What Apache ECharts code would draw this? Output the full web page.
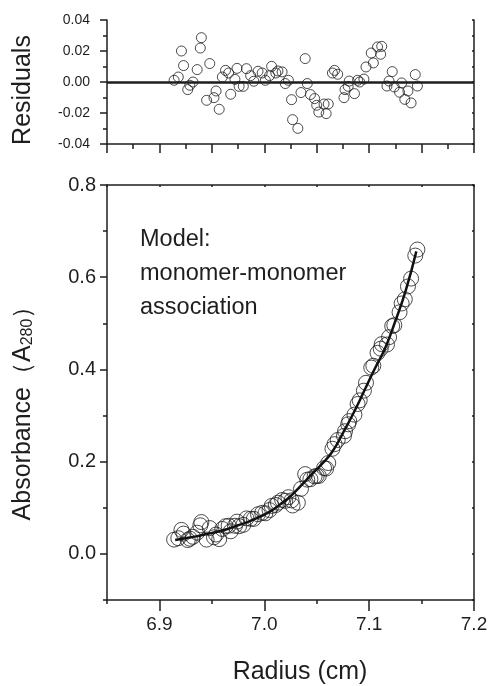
<!DOCTYPE html>
<html>
<head>
<meta charset="utf-8">
<script src="https://cdn.jsdelivr.net/npm/echarts@6/dist/echarts.min.js"></script>
<style>
html,body{margin:0;padding:0;background:#fff;}
#chart{width:495px;height:686px;}
</style>
</head>
<body>
<div id="chart"></div>
<script>
// ---- data ----
const radius = [6.914,6.918,6.921,6.923,6.927,6.929,6.932,6.936,6.939,6.940,
  6.945,6.948,6.952,6.954,6.957,6.960,6.963,6.966,6.968,6.972,
  6.974,6.976,6.980,6.983,6.987,6.990,6.994,6.998,7.001,7.005,
  7.007,7.011,7.013,7.017,7.020,7.023,7.026,7.027,7.032,7.035,
  7.039,7.041,7.044,7.048,7.050,7.052,7.057,7.059,7.061,7.065,
  7.067,7.070,7.076,7.077,7.080,7.081,7.086,7.089,7.091,7.095,
  7.097,7.102,7.104,7.108,7.111,7.112,7.117,7.119,7.122,7.124,
  7.129,7.131,7.134,7.137,7.140,7.144,7.146];
const residuals = [0.0011,0.0032,0.0200,0.0106,-0.0049,-0.0021,0.0000,0.0080,0.0219,0.0286,
  -0.0118,0.0119,-0.0101,-0.0058,-0.0176,0.0032,0.0075,0.0058,-0.0079,0.0017,
  0.0088,-0.0028,-0.0028,0.0086,0.0041,0.0005,0.0069,0.0058,0.0011,0.0041,
  0.0101,0.0058,0.0071,0.0065,-0.0010,0.0011,-0.0114,-0.0243,-0.0299,-0.0068,
  0.0151,-0.0010,-0.0081,-0.0107,-0.0150,-0.0194,-0.0142,-0.0204,-0.0142,0.0058,
  0.0075,0.0050,-0.0101,-0.0049,-0.0028,0.0006,-0.0075,0.0011,0.0000,0.0019,
  0.0097,0.0187,0.0123,0.0226,0.0179,0.0230,-0.0026,0.0006,0.0067,-0.0032,
  -0.0066,-0.0006,-0.0112,-0.0058,-0.0135,0.0048,-0.0026];
const absorbance = [0.031,0.034,0.052,0.044,0.030,0.033,0.037,0.046,0.062,0.069,
  0.031,0.056,0.036,0.042,0.032,0.054,0.060,0.061,0.049,0.061,
  0.070,0.060,0.063,0.077,0.076,0.076,0.086,0.089,0.088,0.095,
  0.104,0.106,0.111,0.117,0.115,0.123,0.116,0.105,0.111,0.141,
  0.173,0.161,0.162,0.168,0.169,0.169,0.186,0.185,0.197,0.228,
  0.238,0.247,0.256,0.266,0.281,0.288,0.302,0.325,0.333,0.354,
  0.371,0.404,0.408,0.436,0.445,0.455,0.454,0.470,0.494,0.496,
  0.524,0.543,0.552,0.580,0.597,0.647,0.660];
const fitRadius = [6.915,6.925,6.935,6.945,6.955,6.965,6.975,6.985,6.995,7.005,
  7.015,7.025,7.035,7.045,7.055,7.065,7.075,7.085,7.095,7.105,7.115,7.125,7.135,7.145];
const fitAbs = [0.030,0.034,0.038,0.043,0.048,0.054,0.062,0.070,0.080,0.091,
  0.107,0.125,0.148,0.172,0.195,0.222,0.262,0.305,0.352,0.400,0.445,0.505,0.572,0.656];
const xMajorTicks = [6.9,7.0,7.1,7.2];
const yMajorTicks = [0.0,0.2,0.4,0.6,0.8];
const modelLines = ['Model:','monomer-monomer','association'];

// ---- chart ----
const INK = '#1e1e1e';
const FONT = 'Liberation Sans, Arial, sans-serif';
const chart = echarts.init(document.getElementById('chart'), null, {renderer:'canvas'});
const lineStyle = {color: INK, width: 1.5};
const hidden = {show:false};

const resData = radius.map((r,i)=>[r, residuals[i]]);
const absData = radius.map((r,i)=>[r, absorbance[i]]);
const fitData = fitRadius.map((r,i)=>[r, fitAbs[i]]);

chart.setOption({
  backgroundColor:'#fff',
  animation:false,
  grid:[
    {left:107, right:21, top:20, height:124},
    {left:107, right:21, top:185, height:415}
  ],
  xAxis:[
    {gridIndex:0, type:'value', position:'bottom', min:6.85, max:7.2, interval:0.05,
     axisLine:{show:true, onZero:false, lineStyle},
     axisTick:{show:true, length:9, lineStyle},
     minorTick:{show:true, splitNumber:2, length:5, lineStyle},
     axisLabel:hidden, splitLine:hidden, minorSplitLine:hidden},
    {gridIndex:1, type:'value', position:'bottom', min:6.85, max:7.2, interval:0.05,
     axisLine:{show:true, onZero:false, lineStyle},
     axisTick:{show:true, length:4, lineStyle},
     axisLabel:hidden, splitLine:hidden},
    {gridIndex:1, type:'value', position:'bottom', min:6.85, max:7.2,
     axisLine:{show:false, onZero:false},
     axisTick:{show:true, length:11, lineStyle, customValues:xMajorTicks},
     axisLabel:{show:true, customValues:xMajorTicks, margin:15, color:INK, fontSize:19, fontFamily:FONT,
       formatter:v=>v.toFixed(1)},
     splitLine:hidden},
    {gridIndex:1, type:'value', position:'top', min:6.85, max:7.2, interval:0.05,
     axisLine:{show:true, onZero:false, lineStyle},
     axisTick:{show:true, inside:true, length:2, lineStyle},
     axisLabel:hidden, splitLine:hidden}
  ],
  yAxis:[
    {gridIndex:0, type:'value', position:'left', min:-0.04, max:0.04, interval:0.02,
     axisLine:{show:true, onZero:false, lineStyle},
     axisTick:{show:true, length:7, lineStyle},
     minorTick:{show:true, splitNumber:2, length:4, lineStyle},
     axisLabel:{show:true, margin:17, color:INK, fontSize:14, fontFamily:FONT, formatter:v=>v.toFixed(2)},
     splitLine:hidden, minorSplitLine:hidden},
    {gridIndex:0, type:'value', position:'right', min:-0.04, max:0.04, interval:0.01,
     axisLine:{show:true, onZero:false, lineStyle},
     axisTick:{show:true, inside:true, length:2, lineStyle},
     axisLabel:hidden, splitLine:hidden},
    {gridIndex:1, type:'value', position:'left', min:-0.1, max:0.8, interval:0.1,
     axisLine:{show:true, onZero:false, lineStyle},
     axisTick:{show:true, length:4, lineStyle},
     axisLabel:hidden, splitLine:hidden},
    {gridIndex:1, type:'value', position:'left', min:-0.1, max:0.8,
     axisLine:{show:false, onZero:false},
     axisTick:{show:true, length:7, lineStyle, customValues:yMajorTicks},
     axisLabel:{show:true, customValues:yMajorTicks, margin:11, color:INK, fontSize:20, fontFamily:FONT,
       formatter:v=>v.toFixed(1)},
     splitLine:hidden},
    {gridIndex:1, type:'value', position:'right', min:-0.1, max:0.8, interval:0.1,
     axisLine:{show:true, onZero:false, lineStyle},
     axisTick:{show:true, inside:true, length:2, lineStyle},
     axisLabel:hidden, splitLine:hidden}
  ],
  series:[
    {type:'scatter', xAxisIndex:0, yAxisIndex:0, data:resData, symbol:'circle', symbolSize:10,
     itemStyle:{color:'rgba(0,0,0,0)', borderColor:INK, borderWidth:1},
     markLine:{silent:true, symbol:['none','none'], label:{show:false},
       lineStyle:{color:INK, width:2.5, type:'solid'}, data:[{yAxis:0}]}},
    {type:'scatter', xAxisIndex:1, yAxisIndex:2, data:absData, symbol:'circle', symbolSize:15,
     itemStyle:{color:'rgba(0,0,0,0)', borderColor:INK, borderWidth:1}},
    {type:'line', xAxisIndex:1, yAxisIndex:2, data:fitData, smooth:true, showSymbol:false,
     lineStyle:{color:'#111', width:2.5}}
  ],
  graphic:[
    {type:'text', x:23, y:90, rotation:Math.PI/2,
     style:{text:'Residuals', x:0, y:0, align:'center', verticalAlign:'middle',
       font:'25px '+FONT, fill:INK}},
    {type:'text', x:23, y:407, rotation:Math.PI/2,
     style:{text:'Absorbance（A{s|280}）', x:0, y:0, align:'center', verticalAlign:'middle',
       font:'25px '+FONT, fill:INK,
       rich:{s:{fontSize:16, fontFamily:FONT, fill:INK, lineHeight:16, verticalAlign:'bottom', padding:[14,0,0,0]}}}},
    {type:'text', x:300, y:672,
     style:{text:'Radius (cm)', x:0, y:0, align:'center', verticalAlign:'middle',
       font:'25px '+FONT, fill:INK}},
    {type:'text', x:140, y:240,
     style:{text:modelLines[0], x:0, y:0, align:'left', verticalAlign:'middle', font:'23.5px '+FONT, fill:INK}},
    {type:'text', x:140, y:274,
     style:{text:modelLines[1], x:0, y:0, align:'left', verticalAlign:'middle', font:'23.5px '+FONT, fill:INK}},
    {type:'text', x:140, y:308,
     style:{text:modelLines[2], x:0, y:0, align:'left', verticalAlign:'middle', font:'23.5px '+FONT, fill:INK}}
  ]
});
</script>
</body>
</html>
